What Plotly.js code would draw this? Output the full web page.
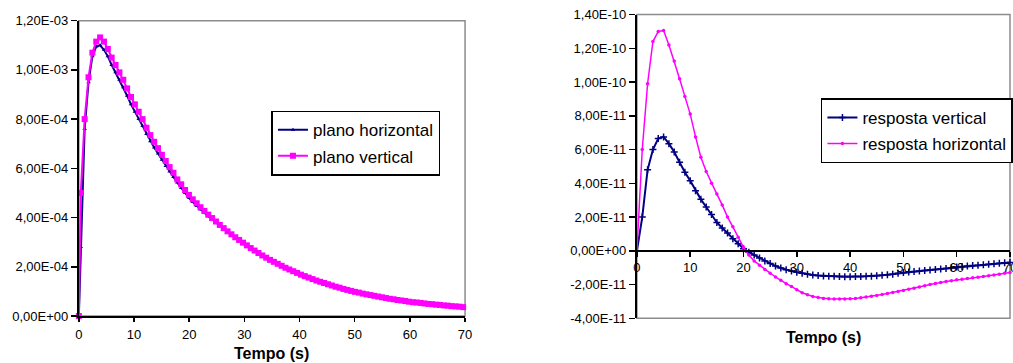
<!DOCTYPE html>
<html>
<head>
<meta charset="utf-8">
<script src="https://cdn.plot.ly/plotly-3.0.1.min.js"></script>
<style>
html,body{margin:0;padding:0;background:#fff;}
#chart{width:1013px;height:363px;}
</style>
</head>
<body>
<div id="chart"></div>
<script>
// ---------- Left chart data (values in units of 1e-4) ----------
const tempoEsq = [0, 0.35, 1.05, 1.75, 2.45, 3.15, 3.85, 4.55, 5.25, 5.95, 6.65, 7.35, 8.05, 8.75, 9.45, 10.15, 10.85, 11.55, 12.25, 12.95, 13.65, 14.35, 15.05, 15.75, 16.45, 17.15, 17.85, 18.55, 19.25, 19.95, 20.65, 21.35, 22.05, 22.75, 23.45, 24.15, 24.85, 25.55, 26.25, 26.95, 27.65, 28.35, 29.05, 29.75, 30.45, 31.15, 31.85, 32.55, 33.25, 33.95, 34.65, 35.35, 36.05, 36.75, 37.45, 38.15, 38.85, 39.55, 40.25, 40.95, 41.65, 42.35, 43.05, 43.75, 44.45, 45.15, 45.85, 46.55, 47.25, 47.95, 48.65, 49.35, 50.05, 50.75, 51.45, 52.15, 52.85, 53.55, 54.25, 54.95, 55.65, 56.35, 57.05, 57.75, 58.45, 59.15, 59.85, 60.55, 61.25, 61.95, 62.65, 63.35, 64.05, 64.75, 65.45, 66.15, 66.85, 67.55, 68.25, 68.95, 69.65];
const planoHorizontal = [0, 2.8, 7.6, 9.5, 10.55, 10.95, 11.0, 10.82, 10.55, 10.2, 9.9, 9.6, 9.3, 8.95, 8.6, 8.3, 8.0, 7.72, 7.4, 7.1, 6.85, 6.6, 6.35, 6.1, 5.87, 5.65, 5.42, 5.2, 5.0, 4.8, 4.63, 4.47, 4.33, 4.19, 4.05, 3.92, 3.79, 3.66, 3.54, 3.42, 3.31, 3.20, 3.09, 2.99, 2.89, 2.78, 2.68, 2.58, 2.48, 2.39, 2.30, 2.22, 2.14, 2.06, 1.98, 1.91, 1.84, 1.77, 1.70, 1.64, 1.58, 1.52, 1.46, 1.41, 1.36, 1.31, 1.26, 1.21, 1.17, 1.12, 1.08, 1.04, 1.00, 0.97, 0.93, 0.90, 0.87, 0.84, 0.81, 0.78, 0.75, 0.72, 0.70, 0.67, 0.65, 0.63, 0.60, 0.58, 0.57, 0.55, 0.53, 0.51, 0.50, 0.48, 0.47, 0.45, 0.44, 0.42, 0.41, 0.40, 0.38];
const planoVertical = [0, 5.0, 8.0, 9.7, 10.7, 11.15, 11.32, 11.15, 10.85, 10.5, 10.2, 9.9, 9.6, 9.25, 8.9, 8.6, 8.3, 8.0, 7.65, 7.35, 7.08, 6.82, 6.55, 6.3, 6.05, 5.82, 5.55, 5.35, 5.12, 4.92, 4.74, 4.58, 4.42, 4.27, 4.12, 3.98, 3.84, 3.70, 3.57, 3.44, 3.32, 3.20, 3.09, 2.98, 2.87, 2.76, 2.66, 2.56, 2.46, 2.37, 2.28, 2.20, 2.12, 2.04, 1.96, 1.89, 1.82, 1.75, 1.68, 1.62, 1.56, 1.50, 1.44, 1.39, 1.34, 1.29, 1.24, 1.19, 1.15, 1.10, 1.06, 1.02, 0.98, 0.95, 0.91, 0.88, 0.85, 0.82, 0.79, 0.76, 0.73, 0.70, 0.68, 0.65, 0.63, 0.61, 0.58, 0.56, 0.55, 0.53, 0.51, 0.49, 0.48, 0.46, 0.45, 0.43, 0.42, 0.40, 0.39, 0.38, 0.36];
const escalaEsq = 1e-4;
const yTicksEsq = [0, 2e-4, 4e-4, 6e-4, 8e-4, 1e-3, 1.2e-3];
const yLabelsEsq = ["0,00E+00", "2,00E-04", "4,00E-04", "6,00E-04", "8,00E-04", "1,00E-03", "1,20E-03"];

// ---------- Right chart data (values in units of 1e-11) ----------
const tempoDir = [0, 1, 2, 3, 4, 5, 6, 7, 8, 9, 10, 11, 12, 13, 14, 15, 16, 17, 18, 19, 20, 21, 22, 23, 24, 25, 26, 27, 28, 29, 30, 31, 32, 33, 34, 35, 36, 37, 38, 39, 40, 41, 42, 43, 44, 45, 46, 47, 48, 49, 50, 51, 52, 53, 54, 55, 56, 57, 58, 59, 60, 61, 62, 63, 64, 65, 66, 67, 68, 69, 70];
const respostaVertical = [0, 2.0, 4.8, 6.0, 6.65, 6.75, 6.35, 5.85, 5.25, 4.65, 4.15, 3.56, 3.05, 2.6, 2.15, 1.68, 1.35, 1.05, 0.72, 0.42, 0.12, -0.08, -0.25, -0.43, -0.6, -0.75, -0.9, -1.02, -1.12, -1.2, -1.27, -1.33, -1.38, -1.43, -1.46, -1.49, -1.5, -1.51, -1.52, -1.53, -1.53, -1.52, -1.52, -1.51, -1.5, -1.48, -1.45, -1.42, -1.38, -1.33, -1.29, -1.26, -1.23, -1.2, -1.17, -1.14, -1.11, -1.08, -1.04, -1.0, -0.96, -0.93, -0.9, -0.87, -0.85, -0.82, -0.8, -0.77, -0.74, -0.71, -0.69];
const respostaHorizontal = [0, 6.0, 9.9, 12.4, 13.0, 13.05, 12.2, 11.25, 10.2, 9.15, 8.1, 6.75, 5.55, 4.7, 4.0, 3.36, 2.72, 2.0, 1.42, 0.8, 0.2, -0.25, -0.6, -0.85, -1.1, -1.33, -1.55, -1.75, -1.95, -2.12, -2.3, -2.48, -2.6, -2.7, -2.77, -2.82, -2.84, -2.85, -2.85, -2.85, -2.84, -2.82, -2.78, -2.74, -2.69, -2.64, -2.59, -2.53, -2.47, -2.41, -2.35, -2.28, -2.21, -2.14, -2.07, -2.0, -1.93, -1.87, -1.82, -1.77, -1.72, -1.68, -1.64, -1.6, -1.56, -1.52, -1.48, -1.43, -1.38, -1.33, -1.28];
const escalaDir = 1e-11;
const yTicksDir = [-4e-11, -2e-11, 0, 2e-11, 4e-11, 6e-11, 8e-11, 1e-10, 1.2e-10, 1.4e-10];
const yLabelsDir = ["-4,00E-11", "-2,00E-11", "0,00E+00", "2,00E-11", "4,00E-11", "6,00E-11", "8,00E-11", "1,00E-10", "1,20E-10", "1,40E-10"];

const xTicks = [0, 10, 20, 30, 40, 50, 60, 70];
const xTitle = "Tempo (s)";

const NAVY = "#000080", MAG = "#FF00FF";
const FONT = "'Liberation Sans', Arial, sans-serif";

const traces = [
  { x: tempoEsq, y: planoHorizontal.map(v => v * escalaEsq), name: "plano horizontal",
    type: "scatter", mode: "lines+markers", xaxis: "x", yaxis: "y", legend: "legend", legendgroup: "a", cliponaxis: false,
    line: { color: NAVY, width: 2 }, marker: { symbol: "triangle-up", size: 4, color: NAVY } },
  { x: tempoEsq, y: planoVertical.map(v => v * escalaEsq), name: "plano vertical",
    type: "scatter", mode: "lines+markers", xaxis: "x", yaxis: "y", legend: "legend", legendgroup: "b", cliponaxis: false,
    line: { color: MAG, width: 2 }, marker: { symbol: "square", size: 6, color: MAG } },
  { x: tempoDir, y: respostaVertical.map(v => v * escalaDir), name: "resposta vertical",
    type: "scatter", mode: "lines+markers", xaxis: "x2", yaxis: "y2", legend: "legend2", legendgroup: "c", cliponaxis: false,
    line: { color: NAVY, width: 2 }, marker: { symbol: "cross-thin", size: 5, color: NAVY, line: { color: NAVY, width: 1.5 } } },
  { x: tempoDir, y: respostaHorizontal.map(v => v * escalaDir), name: "resposta horizontal",
    type: "scatter", mode: "lines+markers", xaxis: "x2", yaxis: "y2", legend: "legend2", legendgroup: "d", cliponaxis: false,
    line: { color: MAG, width: 1.5 }, marker: { symbol: "circle", size: 3.5, color: MAG } }
];

const tickFont = { family: FONT, size: 13, color: "#000" };
const axisCommon = { showgrid: false, zeroline: false, showline: true, linecolor: "#000", linewidth: 2,
  ticks: "outside", tickcolor: "#000", tickwidth: 1.5, tickfont: tickFont, automargin: false, fixedrange: true,
  ticklabeloverflow: "allow" };

const legendCommon = { xanchor: "left", yanchor: "top", bgcolor: "#fff", bordercolor: "#000", borderwidth: 1.5,
  font: { family: FONT, size: 17, color: "#000" }, traceorder: "grouped", tracegroupgap: 1 };

const layout = {
  width: 1013, height: 363,
  margin: { l: 0, r: 0, t: 0, b: 0 },
  paper_bgcolor: "#fff", plot_bgcolor: "#fff",
  font: { family: FONT, color: "#000" },
  showlegend: true,
  xaxis: Object.assign({}, axisCommon, { domain: [0.078, 0.460], range: [0, 70], anchor: "y",
    tickmode: "array", tickvals: xTicks, ticktext: xTicks.map(String), ticklen: 4, ticklabelstandoff: 1 }),
  yaxis: Object.assign({}, axisCommon, { domain: [0.1295, 0.943], range: [0, 1.2e-3], anchor: "x",
    tickmode: "array", tickvals: yTicksEsq, ticktext: yLabelsEsq, ticklen: 6 }),
  xaxis2: Object.assign({}, axisCommon, { domain: [0.630, 0.999], range: [0, 70], anchor: "free", position: 0.309,
    tickmode: "array", tickvals: xTicks, ticktext: xTicks.map(String), ticklen: 5 }),
  yaxis2: Object.assign({}, axisCommon, { domain: [0.123, 0.960], range: [-4e-11, 1.4e-10], anchor: "x2",
    tickmode: "array", tickvals: yTicksDir, ticktext: yLabelsDir, ticklen: 6 }),
  legend: Object.assign({}, legendCommon, { x: 0.2685, y: 0.695 }),
  legend2: Object.assign({}, legendCommon, { x: 0.812, y: 0.729 }),
  shapes: [
    { type: "rect", xref: "x domain", yref: "y domain", x0: 0, x1: 1, y0: 0, y1: 1,
      line: { color: "#8c8c8c", width: 1.5 }, layer: "below" },
    { type: "rect", xref: "x2 domain", yref: "y2 domain", x0: 0, x1: 1, y0: 0, y1: 1,
      line: { color: "#8c8c8c", width: 1.5 }, layer: "below" }
  ],
  annotations: [
    { text: "<b>" + xTitle + "</b>", xref: "x domain", yref: "paper", x: 0.5, y: 0.0275,
      xanchor: "center", yanchor: "middle", showarrow: false, font: { family: FONT, size: 16, color: "#000" } },
    { text: "<b>" + xTitle + "</b>", xref: "x2 domain", yref: "paper", x: 0.5, y: 0.069,
      xanchor: "center", yanchor: "middle", showarrow: false, font: { family: FONT, size: 16, color: "#000" } }
  ]
};

Plotly.newPlot("chart", traces, layout, { staticPlot: true, displayModeBar: false });
</script>
</body>
</html>
